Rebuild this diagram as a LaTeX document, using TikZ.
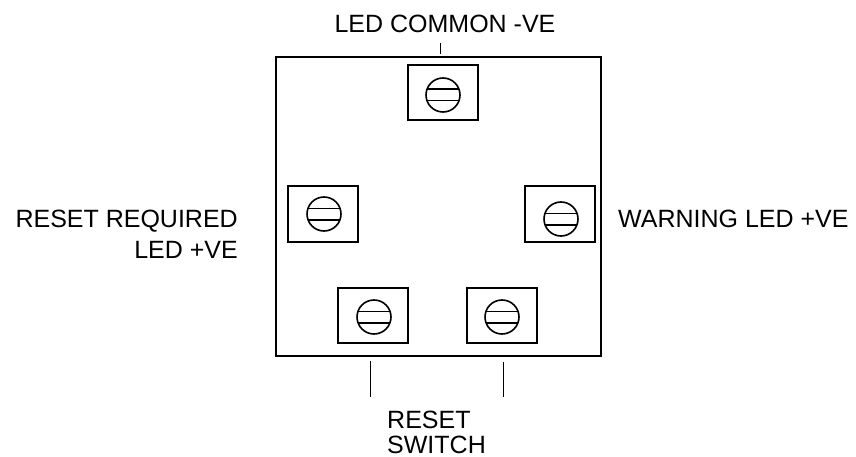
\documentclass[tikz,border=0pt]{standalone}
\usepackage{fontspec}
\setmainfont{Liberation Sans}
\begin{document}
\begin{tikzpicture}[x=1pt,y=-1pt,
  lbl/.style={font=\fontsize{25}{30}\selectfont, inner sep=0pt},
  term/.style={draw, line width=2pt, rectangle, minimum width=70pt, minimum height=55pt, inner sep=0pt},
  screw/.style={draw, line width=1.6pt, circle, minimum size=34pt, inner sep=0pt},
  tick/.style={line width=1pt}]
\useasboundingbox (0,0) rectangle (856,457);
% main plate
\node[draw, line width=2pt, rectangle, minimum width=325pt, minimum height=299pt, inner sep=0pt] (plate) at (438.5,206.5) {};
% terminals
\node[term] (tt) at (443,93) {};
\node[term] (tl) at (323,214) {};
\node[term] (tr) at (560,214) {};
\node[term] (tbl) at (373,315) {};
\node[term] (tbr) at (502,315) {};
% screws
\foreach \n/\x/\y in {st/443/95, sl/324/214, sr/561/219, sbl/374/317, sbr/502/317}{
  \node[screw] (\n) at (\x,\y) {};
  \draw[line width=1.6pt] (\x-16,\y-5.7) -- (\x+16,\y-5.7);
  \draw[line width=1.6pt] (\x-16,\y+5.7) -- (\x+16,\y+5.7);
}
% labels
\node[lbl, anchor=base] (ltop) at (445,33) {LED COMMON -VE};
\node[lbl, anchor=base east] (lrr1) at (238,227) {RESET REQUIRED};
\node[lbl, anchor=base east] (lrr2) at (238,258) {LED +VE};
\node[lbl, anchor=base west] (lwarn) at (618,227) {WARNING LED +VE};
\node[lbl, anchor=base west] (lrs1) at (387,428) {RESET};
\node[lbl, anchor=base west] (lrs2) at (387,453) {SWITCH};
% ticks
\coordinate (ta) at (440,43); \coordinate (tb) at (440,54);
\draw[tick] (ta) -- (tb);
\coordinate (ba1) at (370,361); \coordinate (ba2) at (370,397);
\draw[tick] (ba1) -- (ba2);
\coordinate (bb1) at (503,362); \coordinate (bb2) at (503,397);
\draw[tick] (bb1) -- (bb2);
\end{tikzpicture}
\end{document}
